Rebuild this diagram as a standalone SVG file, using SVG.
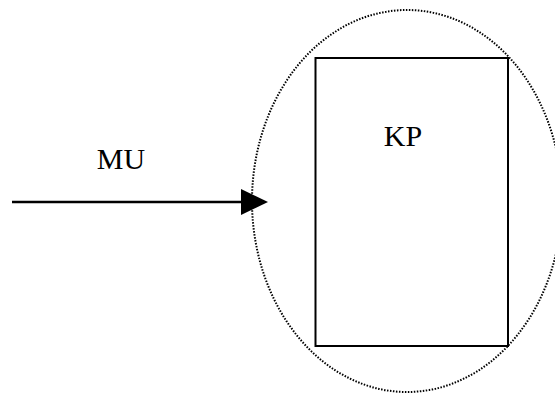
<svg xmlns="http://www.w3.org/2000/svg" width="555" height="396" viewBox="0 0 555 396">
<style>
.lbl{font-family:"Liberation Serif","Times New Roman",serif;font-size:30px;fill:#000}
.line{stroke:#000;stroke-width:2.5;fill:none}
</style>
<defs>
<marker id="ah" markerUnits="userSpaceOnUse" markerWidth="27" markerHeight="26" refX="0" refY="13" orient="auto">
<path d="M0,0 L27,13 L0,26 Z" fill="#000"/>
</marker>
</defs>
<rect width="555" height="396" fill="#fff"/>
<g id="boundary">
<ellipse cx="407" cy="201" rx="155" ry="191" fill="none" stroke="#000" stroke-width="2" stroke-dasharray="1.5 1.5"/>
</g>
<g id="KP">
<rect x="315.5" y="58" width="192.5" height="288" fill="none" stroke="#000" stroke-width="2"/>
<text class="lbl" x="403" y="146" text-anchor="middle">KP</text>
</g>
<g id="MU">
<text class="lbl" x="121" y="169" text-anchor="middle">MU</text>
</g>
<g id="connectors">
<line class="line" x1="12" y1="202" x2="241" y2="202" marker-end="url(#ah)"/>
</g>
</svg>
